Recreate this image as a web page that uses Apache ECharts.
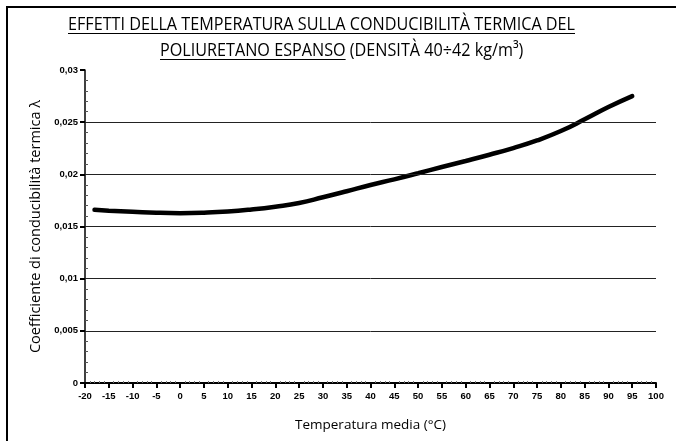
<!DOCTYPE html>
<html>
<head>
<meta charset="utf-8">
<script src="https://cdn.jsdelivr.net/npm/echarts@6/dist/echarts.min.js"></script>
<style>
  html, body { margin: 0; padding: 0; background: #fff; }
  #chart { width: 676px; height: 441px; }
</style>
</head>
<body>
<div id="chart"></div>
<script>
// Mean temperature (°C) and thermal conductivity λ of expanded polyurethane
const temperature = [-18, -15, -10, -5, 0, 5, 10, 15, 20, 25, 30, 35, 40, 45, 50, 55, 60, 65, 70, 75, 80, 85, 90, 95];
const conductivity = [0.0166, 0.01652, 0.01642, 0.01632, 0.01628, 0.01632, 0.01643, 0.01663, 0.0169, 0.01725, 0.0178, 0.01838, 0.01898, 0.01952, 0.0201, 0.0207, 0.02128, 0.02188, 0.02252, 0.02325, 0.02415, 0.02527, 0.02645, 0.0275];
const gridValues = [0.005, 0.01, 0.015, 0.02, 0.025];

const titleLine1 = 'EFFETTI DELLA TEMPERATURA SULLA CONDUCIBILITÀ TERMICA DEL';
const titleLine2a = 'POLIURETANO ESPANSO';
const titleLine2b = ' (DENSITÀ 40÷42 kg/m³)';
const xAxisName = 'Temperatura media (°C)';
const yAxisName = 'Coefficiente di conducibilità termica λ';

const TITLE_FONT = '19px "Open Sans"';
const measureCtx = document.createElement('canvas').getContext('2d');
function textWidth(str) { measureCtx.font = TITLE_FONT; return measureCtx.measureText(str).width; }

const line1Left = 68, line1Right = 575;
const sx = (line1Right - line1Left) / textWidth(titleLine1);
const line2Left = 160;
const line2aWidth = textWidth(titleLine2a) * sx;

const chart = echarts.init(document.getElementById('chart'), null, { renderer: 'canvas' });

const tickFont = { fontFamily: 'Liberation Sans', fontWeight: 'bold', fontSize: 9.5, color: '#000' };
const commaFmt = v => String(+v.toFixed(4)).replace('.', ',');
const plotRect = { left: 85, right: 20, top: 70, bottom: 58 };

const option = {
  animation: false,
  backgroundColor: '#fff',
  // grid 0 carries the main axes, grid 1 (same rectangle) only the inward minor ticks
  grid: [Object.assign({}, plotRect), Object.assign({}, plotRect)],
  xAxis: [{
    gridIndex: 0, type: 'value', min: -20, max: 100, interval: 5,
    name: xAxisName, nameLocation: 'middle', nameGap: 35,
    nameTextStyle: { fontFamily: 'Open Sans', fontSize: 13.5, color: '#000' },
    axisLine: { show: true, onZero: false, lineStyle: { color: '#000', width: 2 } },
    axisTick: { show: true, inside: false, length: 5, lineStyle: { color: '#000', width: 2 } },
    axisLabel: Object.assign({ margin: 8, formatter: v => String(v) }, tickFont),
    splitLine: { show: false }
  }, {
    gridIndex: 1, type: 'value', min: -20, max: 100, interval: 5, position: 'bottom',
    axisLine: { show: false, onZero: false },
    axisTick: { show: false, inside: true },
    minorTick: { show: true, splitNumber: 5, length: 2, lineStyle: { color: '#777', width: 1 } },
    axisLabel: { show: false },
    splitLine: { show: false }
  }],
  yAxis: [{
    gridIndex: 0, type: 'value', min: 0, max: 0.03, interval: 0.005,
    name: yAxisName, nameLocation: 'middle', nameGap: 39, nameRotate: 90,
    nameTextStyle: { fontFamily: 'Open Sans', fontSize: 14.5, color: '#000' },
    axisLine: { show: true, onZero: false, lineStyle: { color: '#000', width: 1.5 } },
    axisTick: { show: true, inside: false, length: 5, lineStyle: { color: '#000', width: 2 } },
    axisLabel: Object.assign({ margin: 7, formatter: commaFmt }, tickFont),
    splitLine: { show: false }
  }, {
    gridIndex: 1, type: 'value', min: 0, max: 0.03, interval: 0.005, position: 'left',
    axisLine: { show: false, onZero: false },
    axisTick: { show: false, inside: true },
    minorTick: { show: true, splitNumber: 5, length: 3, lineStyle: { color: '#555', width: 1 } },
    axisLabel: { show: false },
    splitLine: { show: false }
  }],
  series: [{
    type: 'line',
    xAxisIndex: 0, yAxisIndex: 0,
    data: temperature.map((t, i) => [t, conductivity[i]]),
    smooth: 0.5,
    showSymbol: false,
    lineStyle: { color: '#000', width: 4.5, cap: 'round' },
    markLine: {
      silent: true, symbol: 'none', animation: false, precision: 4,
      label: { show: false },
      lineStyle: { color: '#222', width: 1, type: 'solid' },
      data: gridValues.map(v => ({ yAxis: v }))
    },
    z: 3
  }],
  graphic: [
    // frame around the whole chart
    { type: 'rect', shape: { x: 7, y: 7, width: 700, height: 460 },
      style: { fill: 'none', stroke: '#000', lineWidth: 2 }, z: 10 },
    { type: 'text', x: line1Left, y: 34, scaleX: sx,
      style: { text: titleLine1, font: TITLE_FONT, fill: '#000', align: 'left', verticalAlign: 'bottom' } },
    { type: 'line', shape: { x1: line1Left, y1: 33.5, x2: line1Right, y2: 33.5 },
      style: { stroke: '#000', lineWidth: 1 } },
    { type: 'text', x: line2Left, y: 60, scaleX: sx,
      style: { text: titleLine2a + titleLine2b, font: TITLE_FONT, fill: '#000', align: 'left', verticalAlign: 'bottom' } },
    { type: 'line', shape: { x1: line2Left, y1: 59.5, x2: line2Left + line2aWidth, y2: 59.5 },
      style: { stroke: '#000', lineWidth: 1 } }
  ]
};
chart.setOption(option);
</script>
</body>
</html>
